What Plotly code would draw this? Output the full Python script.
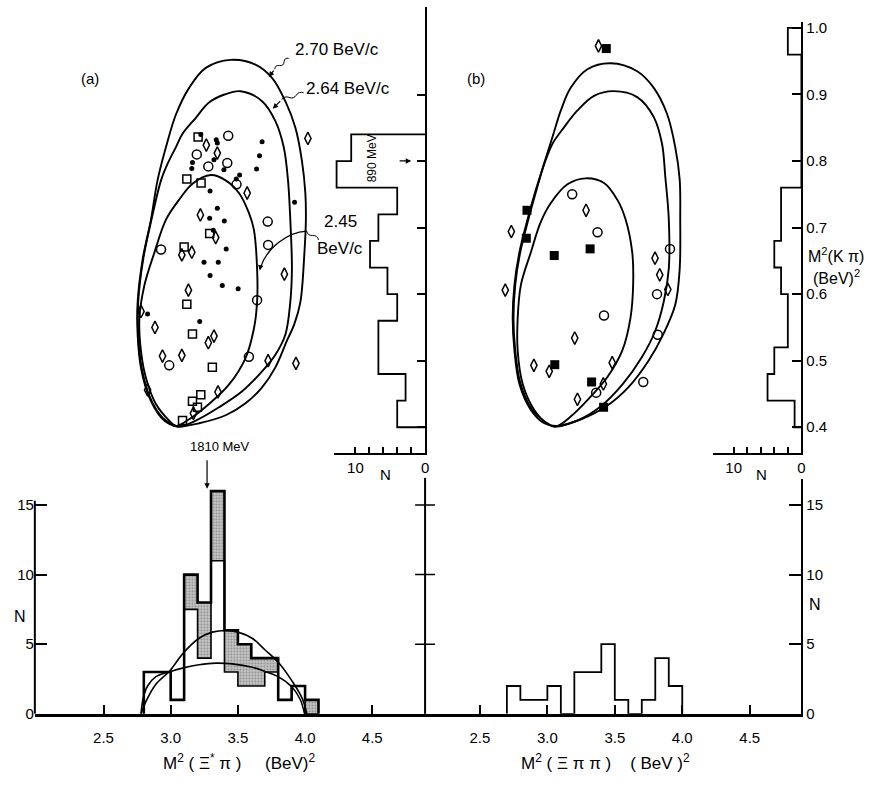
import plotly.graph_objects as go

W, H = 888, 786
FONT = "Liberation Sans, Arial, Helvetica, sans-serif"

# ---------------- data ----------------
# bottom-left: M^2(Xi* pi) histogram (open part + shaded part), bin edges
XS_EDGES = [2.8, 3.0, 3.1, 3.2, 3.3, 3.4, 3.5, 3.6, 3.7, 3.8, 3.9, 4.0, 4.1]
XS_OPEN = [3, 1, 7.5, 4, 11, 3, 2, 2, 3, 1, 2, 0]
XS_SHADED = [0, 0, 2.5, 4, 5, 3, 3, 2, 1, 0, 0, 1]

# phase-space curves drawn over the bottom-left histogram
PS_BIG_X = [2.779, 2.816, 2.890, 2.994, 3.095, 3.211, 3.310, 3.409, 3.500, 3.606, 3.705, 3.799, 3.902, 3.977, 4.014]
PS_BIG_Y = [0, 0.9, 2.13, 3.1, 4.38, 5.43, 5.87, 5.99, 5.87, 5.43, 4.57, 3.72, 2.37, 1.15, 0]
PS_SMALL_X = [2.779, 2.796, 2.828, 2.890, 2.994, 3.095, 3.211, 3.335, 3.458, 3.606, 3.705, 3.799, 3.902, 3.964, 3.996]
PS_SMALL_Y = [0, 1.15, 2.0, 2.67, 3.03, 3.30, 3.52, 3.64, 3.59, 3.35, 3.03, 2.67, 1.93, 1.03, 0]

# bottom-right: M^2(Xi pi pi) histogram
XPP_EDGES = [2.7, 2.8, 2.9, 3.0, 3.1, 3.2, 3.3, 3.4, 3.5, 3.6, 3.7, 3.8, 3.9, 4.0]
XPP_COUNTS = [2, 1, 1, 2, 0, 3, 3, 5, 1, 0, 1, 4, 2]

# side histograms of M^2(K pi)
KPI_A_EDGES = [0.40, 0.44, 0.48, 0.52, 0.56, 0.60, 0.64, 0.68, 0.72, 0.76, 0.80, 0.84]
KPI_A_COUNTS = [4.0, 2.8, 6.7, 6.7, 4.0, 5.4, 7.9, 6.7, 4.0, 12.7, 10.6]
KPI_B_EDGES = [0.40, 0.44, 0.48, 0.52, 0.56, 0.60, 0.64, 0.68, 0.72, 0.76, 0.96, 1.00]
KPI_B_COUNTS = [1, 5, 4, 2, 2, 3, 4, 3, 3, 0, 2]

# Dalitz boundaries, panel (a)
A_OUTER_X = [3.446, 3.631, 3.754, 3.853, 3.928, 3.976, 4.002, 4.006, 3.995, 3.965, 3.920, 3.865, 3.779, 3.680, 3.557, 3.409, 3.211, 3.050, 2.990, 2.928, 2.841, 2.779, 2.754, 2.754, 2.791, 2.853, 2.902, 2.965, 3.039, 3.137, 3.261]
A_OUTER_Y = [0.952, 0.945, 0.925, 0.890, 0.850, 0.801, 0.752, 0.712, 0.662, 0.588, 0.555, 0.530, 0.490, 0.460, 0.436, 0.418, 0.406, 0.401, 0.405, 0.415, 0.445, 0.489, 0.539, 0.588, 0.652, 0.712, 0.771, 0.821, 0.870, 0.910, 0.940]
A_MID_X = [3.520, 3.680, 3.779, 3.841, 3.873, 3.890, 3.902, 3.890, 3.853, 3.779, 3.680, 3.532, 3.359, 3.187, 3.063, 2.995, 2.932, 2.846, 2.784, 2.758, 2.758, 2.795, 2.857, 2.928, 2.977, 3.039, 3.088, 3.187, 3.285, 3.400]
A_MID_Y = [0.905, 0.890, 0.860, 0.821, 0.771, 0.712, 0.638, 0.588, 0.539, 0.509, 0.484, 0.454, 0.430, 0.410, 0.401, 0.406, 0.416, 0.445, 0.489, 0.539, 0.588, 0.652, 0.712, 0.771, 0.796, 0.821, 0.841, 0.865, 0.888, 0.900]
A_IN_X = [3.298, 3.409, 3.508, 3.582, 3.619, 3.643, 3.643, 3.619, 3.557, 3.433, 3.285, 3.137, 3.039, 2.989, 2.890, 2.816, 2.779, 2.767, 2.804, 2.878, 2.965, 3.063, 3.162]
A_IN_Y = [0.779, 0.771, 0.752, 0.722, 0.697, 0.638, 0.588, 0.548, 0.504, 0.464, 0.435, 0.412, 0.402, 0.410, 0.435, 0.474, 0.514, 0.563, 0.613, 0.662, 0.712, 0.742, 0.766]

# Dalitz boundaries, panel (b)
B_OUTER_X = [3.469, 3.666, 3.789, 3.887, 3.948, 3.981, 3.985, 3.981, 3.948, 3.860, 3.750, 3.600, 3.440, 3.250, 3.075, 2.977, 2.878, 2.793, 2.756, 2.743, 2.756, 2.793, 2.854, 2.915, 2.977, 3.038, 3.100, 3.173, 3.297]
B_OUTER_Y = [0.947, 0.935, 0.910, 0.871, 0.821, 0.772, 0.713, 0.638, 0.584, 0.540, 0.500, 0.460, 0.432, 0.412, 0.402, 0.406, 0.426, 0.465, 0.515, 0.564, 0.614, 0.663, 0.713, 0.757, 0.797, 0.836, 0.876, 0.910, 0.938]
B_MID_X = [3.494, 3.666, 3.789, 3.850, 3.874, 3.900, 3.900, 3.863, 3.800, 3.700, 3.560, 3.400, 3.220, 3.051, 2.985, 2.885, 2.800, 2.762, 2.749, 2.762, 2.799, 2.860, 2.920, 2.980, 3.038, 3.125, 3.223, 3.346]
B_MID_Y = [0.905, 0.896, 0.866, 0.826, 0.777, 0.713, 0.638, 0.589, 0.545, 0.505, 0.465, 0.432, 0.410, 0.401, 0.408, 0.427, 0.466, 0.515, 0.564, 0.614, 0.663, 0.713, 0.757, 0.797, 0.826, 0.851, 0.876, 0.898]
B_IN_X = [3.284, 3.420, 3.518, 3.579, 3.629, 3.636, 3.616, 3.555, 3.444, 3.321, 3.173, 3.063, 3.001, 2.903, 2.817, 2.780, 2.780, 2.804, 2.878, 2.950, 3.026, 3.149]
B_IN_Y = [0.774, 0.767, 0.742, 0.713, 0.663, 0.614, 0.564, 0.515, 0.475, 0.446, 0.416, 0.401, 0.405, 0.426, 0.465, 0.515, 0.564, 0.614, 0.663, 0.708, 0.737, 0.765]

# events, panel (a)
A_SQ_X = [3.204, 3.120, 3.226, 3.290, 3.100, 3.120, 3.162, 3.310, 3.224, 3.162, 3.199, 3.088]
A_SQ_Y = [0.836, 0.773, 0.767, 0.691, 0.671, 0.585, 0.540, 0.490, 0.449, 0.439, 0.430, 0.410]
A_DI_X = [3.265, 3.347, 3.569, 3.221, 3.335, 3.083, 3.157, 3.132, 2.779, 2.883, 3.322, 3.280, 2.939, 3.083, 3.846, 3.932, 4.021, 3.725, 2.828, 3.352, 3.169]
A_DI_Y = [0.824, 0.812, 0.752, 0.719, 0.685, 0.659, 0.663, 0.606, 0.574, 0.550, 0.537, 0.527, 0.507, 0.508, 0.630, 0.496, 0.834, 0.500, 0.456, 0.453, 0.421]
A_OC_X = [3.428, 3.194, 3.421, 3.280, 3.490, 3.722, 3.725, 2.928, 3.643, 3.582, 2.989]
A_OC_Y = [0.838, 0.810, 0.797, 0.792, 0.765, 0.709, 0.674, 0.667, 0.591, 0.506, 0.493]
A_DOT_X = [3.224, 3.339, 3.347, 3.680, 3.162, 3.157, 3.322, 3.396, 3.661, 3.639, 3.513, 3.488, 3.293, 3.922, 3.347, 3.290, 3.399, 3.317, 3.413, 3.248, 3.354, 3.293, 3.384, 3.502, 3.216, 2.828]
A_DOT_Y = [0.840, 0.832, 0.827, 0.829, 0.798, 0.789, 0.802, 0.787, 0.808, 0.788, 0.779, 0.773, 0.755, 0.738, 0.729, 0.714, 0.710, 0.696, 0.668, 0.648, 0.648, 0.628, 0.613, 0.608, 0.559, 0.570]

# events, panel (b)
B_SQ_X = [3.437, 2.849, 2.844, 3.051, 3.317, 3.055, 3.328, 3.417]
B_SQ_Y = [0.969, 0.726, 0.684, 0.658, 0.668, 0.494, 0.468, 0.430]
B_DI_X = [3.379, 3.287, 2.733, 3.798, 3.833, 2.688, 3.893, 3.203, 2.900, 3.014, 3.481, 3.415, 3.223]
B_DI_Y = [0.973, 0.726, 0.694, 0.654, 0.629, 0.606, 0.607, 0.534, 0.493, 0.484, 0.497, 0.465, 0.442]
B_OC_X = [3.184, 3.372, 3.909, 3.813, 3.420, 3.818, 3.362, 3.711]
B_OC_Y = [0.750, 0.693, 0.668, 0.600, 0.568, 0.539, 0.452, 0.468]

X_TICKS = [2.5, 3.0, 3.5, 4.0, 4.5]
N_TICKS = [0, 5, 10, 15]
SIDE_N_TICKS = [0, 2, 4, 6, 8, 10]
KPI_TICKS = [0.4, 0.5, 0.6, 0.7, 0.8, 0.9, 1.0]


# ---------------- helpers ----------------
def fx(p):
    return p / W


def fy(p):
    return 1 - p / H


def closed(xs, ys):
    return xs + xs[:1], ys + ys[:1]


def vstep(edges, counts):
    xs, ys = [0], [edges[0]]
    for i, c in enumerate(counts):
        xs += [c, c]
        ys += [edges[i], edges[i + 1]]
    xs.append(0)
    ys.append(edges[-1])
    return xs, ys


def hstep(edges, counts):
    xs, ys = [edges[0]], [0]
    for i, c in enumerate(counts):
        xs += [edges[i], edges[i + 1]]
        ys += [c, c]
    xs.append(edges[-1])
    ys.append(0)
    return xs, ys


def squiggle(p0, p1, n=3, amp=2.2):
    (x0, y0), (x1, y1) = p0, p1
    dx, dy = x1 - x0, y1 - y0
    L = (dx * dx + dy * dy) ** 0.5
    nx, ny = -dy / L, dx / L
    s = "M %.5f %.5f" % (fx(x0), fy(y0))
    for k in range(n):
        t0, t1 = k / n, (k + 1) / n
        tm = (t0 + t1) / 2
        sgn = 1 if k % 2 == 0 else -1
        cx = x0 + dx * tm + nx * amp * 2 * sgn
        cy = y0 + dy * tm + ny * amp * 2 * sgn
        ex, ey = x0 + dx * t1, y0 + dy * t1
        s += " Q %.5f %.5f %.5f %.5f" % (fx(cx), fy(cy), fx(ex), fy(ey))
    return s


fig = go.Figure()
LINE = dict(color="black", width=1.8)

# Dalitz boundaries
for cx, cy in [(A_OUTER_X, A_OUTER_Y), (A_MID_X, A_MID_Y), (A_IN_X, A_IN_Y)]:
    x, y = closed(cx, cy)
    fig.add_trace(go.Scatter(x=x, y=y, mode="lines", xaxis="x", yaxis="y",
                             line=dict(color="black", width=1.9, shape="spline", smoothing=1.0)))
for cx, cy in [(B_OUTER_X, B_OUTER_Y), (B_MID_X, B_MID_Y), (B_IN_X, B_IN_Y)]:
    x, y = closed(cx, cy)
    fig.add_trace(go.Scatter(x=x, y=y, mode="lines", xaxis="x2", yaxis="y2",
                             line=dict(color="black", width=1.9, shape="spline", smoothing=1.0)))


# events
def pts(x, y, symbol, size, ax, ay, lw=1.5):
    m = dict(symbol=symbol, size=size, color="black", line=dict(color="black", width=lw))
    fig.add_trace(go.Scatter(x=x, y=y, mode="markers", marker=m, xaxis=ax, yaxis=ay, cliponaxis=False))


pts(A_SQ_X, A_SQ_Y, "square-open", 8, "x", "y")
pts(A_DI_X, A_DI_Y, "diamond-tall-open", 9, "x", "y")
pts(A_OC_X, A_OC_Y, "circle-open", 9, "x", "y")
pts(A_DOT_X, A_DOT_Y, "circle", 5, "x", "y", lw=0)
pts(B_SQ_X, B_SQ_Y, "square", 9, "x2", "y2", lw=0)
pts(B_DI_X, B_DI_Y, "diamond-tall-open", 9, "x2", "y2")
pts(B_OC_X, B_OC_Y, "circle-open", 9, "x2", "y2")

# side histograms
xa, ya = vstep(KPI_A_EDGES, KPI_A_COUNTS)
fig.add_trace(go.Scatter(x=xa, y=ya, mode="lines", line=LINE, xaxis="x3", yaxis="y"))
xb, yb = vstep(KPI_B_EDGES, KPI_B_COUNTS)
fig.add_trace(go.Scatter(x=xb, y=yb, mode="lines", line=LINE, xaxis="x4", yaxis="y2"))

# bottom-left histogram: shaded part, open-part outline, total envelope
centers = [(XS_EDGES[i] + XS_EDGES[i + 1]) / 2 for i in range(len(XS_OPEN))]
widths = [XS_EDGES[i + 1] - XS_EDGES[i] for i in range(len(XS_OPEN))]
fig.add_trace(go.Bar(x=centers, y=XS_SHADED, base=XS_OPEN, width=widths, xaxis="x5", yaxis="y5",
                     marker=dict(color="#bdbdbd",
                                 pattern=dict(shape=".", fgcolor="#4f4f4f", bgcolor="#c6c6c6",
                                              size=3, solidity=0.35),
                                 line=dict(width=0))))
ox, oy = hstep(XS_EDGES, XS_OPEN)
fig.add_trace(go.Scatter(x=ox, y=oy, mode="lines", line=dict(color="black", width=1.6),
                         xaxis="x5", yaxis="y5"))
totals = [o + s for o, s in zip(XS_OPEN, XS_SHADED)]
ex, ey = hstep(XS_EDGES, totals)
fig.add_trace(go.Scatter(x=ex, y=ey, mode="lines", line=dict(color="black", width=2.6),
                         xaxis="x5", yaxis="y5"))
fig.add_trace(go.Scatter(x=PS_BIG_X, y=PS_BIG_Y, mode="lines", xaxis="x5", yaxis="y5",
                         line=dict(color="black", width=1.6, shape="spline")))
fig.add_trace(go.Scatter(x=PS_SMALL_X, y=PS_SMALL_Y, mode="lines", xaxis="x5", yaxis="y5",
                         line=dict(color="black", width=1.6, shape="spline")))

# bottom-right histogram
rx, ry = hstep(XPP_EDGES, XPP_COUNTS)
fig.add_trace(go.Scatter(x=rx, y=ry, mode="lines", line=LINE, xaxis="x6", yaxis="y6"))

# ---------------- axes ----------------
TF = dict(family=FONT, size=15, color="black")
hidden = dict(visible=False, showgrid=False, zeroline=False)
common = dict(showgrid=False, zeroline=False, linecolor="black", tickcolor="black", tickfont=TF)

Y_TOP_RANGE = [0.361, 1.0316]
Y2_TOP_RANGE = [0.361, 1.0093]
N_RANGE = [0, 16.88]

layout_axes = dict(
    xaxis=dict(domain=[fx(35), fx(427)], range=[1.989, 4.893], anchor="y", **hidden),
    xaxis2=dict(domain=[fx(427), fx(805)], range=[2.0936, 4.883], anchor="y2", **hidden),
    yaxis=dict(domain=[fy(457), fy(5)], range=Y_TOP_RANGE, anchor="x3", side="right",
               showline=True, linewidth=2, ticks="inside", ticklen=8, tickwidth=1.5,
               tickvals=KPI_TICKS[:-1], showticklabels=False, **common),
    yaxis2=dict(domain=[fy(457), fy(20)], range=Y2_TOP_RANGE, anchor="x4", side="right",
                showline=True, linewidth=2, ticks="inside", ticklen=9, tickwidth=1.5,
                tickvals=KPI_TICKS, ticktext=["%.1f" % v for v in KPI_TICKS], **common),
    xaxis3=dict(domain=[fx(336), fx(427)], range=[13.0, 0], anchor="y",
                showline=True, linewidth=2, ticks="inside", ticklen=6, tickwidth=1.5,
                tickvals=SIDE_N_TICKS,
                ticktext=[str(v) if v in (0, 10) else "" for v in SIDE_N_TICKS], **common),
    xaxis4=dict(domain=[fx(716), fx(805)], range=[13.09, 0], anchor="y2",
                showline=True, linewidth=2, ticks="inside", ticklen=6, tickwidth=1.5,
                tickvals=SIDE_N_TICKS,
                ticktext=[str(v) if v in (0, 10) else "" for v in SIDE_N_TICKS], **common),
    xaxis5=dict(domain=[fx(35), fx(427)], range=[1.989, 4.893], anchor="y5",
                showline=True, linewidth=2.6, ticks="inside", ticklen=9, tickwidth=1.5,
                ticklabelstandoff=8,
                tickvals=X_TICKS, ticktext=["%.1f" % v for v in X_TICKS], **common),
    yaxis5=dict(domain=[fy(721), fy(483)], range=N_RANGE, anchor="x5", side="left",
                showline=False, ticks="inside", ticklen=12, tickwidth=1.5,
                tickvals=N_TICKS, ticktext=[str(v) for v in N_TICKS], **common),
    xaxis6=dict(domain=[fx(427), fx(805)], range=[2.0936, 4.883], anchor="y6",
                showline=True, linewidth=2.6, ticks="inside", ticklen=9, tickwidth=1.5,
                ticklabelstandoff=8,
                tickvals=X_TICKS, ticktext=["%.1f" % v for v in X_TICKS], **common),
    yaxis6=dict(domain=[fy(721), fy(483)], range=N_RANGE, anchor="x6", side="right",
                showline=True, linewidth=2, ticks="inside", ticklen=12, tickwidth=1.5,
                tickvals=N_TICKS, ticktext=[str(v) for v in N_TICKS], **common),
)

# ---------------- shapes ----------------
shapes = []
# left axis of bottom-left histogram
shapes.append(dict(type="line", xref="paper", yref="y5", x0=fx(35), x1=fx(35), y0=0, y1=15.3,
                   line=dict(color="black", width=2)))
# shared divider (lower part) with crossing ticks
shapes.append(dict(type="line", xref="paper", yref="paper", x0=fx(427), x1=fx(427),
                   y0=fy(721), y1=fy(482), line=dict(color="black", width=2)))
for v in N_TICKS[1:]:
    shapes.append(dict(type="line", xref="paper", yref="y5", x0=fx(417), x1=fx(437), y0=v, y1=v,
                       line=dict(color="black", width=1.5)))
# wavy leaders of momentum labels
SQ = dict(type="path", xref="paper", yref="paper", line=dict(color="black", width=1))
shapes.append(dict(path=squiggle((290, 57), (276, 68), n=3, amp=1.6), **SQ))
shapes.append(dict(path=squiggle((305, 92), (283, 99), n=3, amp=1.6), **SQ))
shapes.append(dict(path=squiggle((320, 241), (308, 232), n=2, amp=1.6), **SQ))
shapes.append(dict(type="path", xref="paper", yref="paper", line=dict(color="black", width=1.2),
                   path="M %.5f %.5f C %.5f %.5f %.5f %.5f %.5f %.5f" % (
                       fx(308), fy(232), fx(288), fy(233), fx(268), fy(250), fx(262), fy(268))))


# ---------------- annotations ----------------
def txt(x, y, s, size=15, xanchor="center", **kw):
    return dict(x=fx(x), y=fy(y), xref="paper", yref="paper", text=s, showarrow=False,
                xanchor=xanchor, yanchor="middle",
                font=dict(family=FONT, size=size, color="black"), **kw)


def arrow(x, y, ax, ay):
    return dict(x=fx(x), y=fy(y), xref="paper", yref="paper", text="", showarrow=True,
                ax=ax, ay=ay, arrowhead=2, arrowsize=0.9, arrowwidth=1.2, arrowcolor="black")


ann = [
    txt(90, 77, "(a)", 15),
    txt(478, 77, "(b)", 15),
    txt(339, 48, "2.70 BeV/c", 17),
    txt(350, 88, "2.64 BeV/c", 17),
    txt(342, 222, "2.45", 17),
    txt(342, 250, "BeV/c", 17),
    txt(374, 158, "890 MeV", 12, textangle=-90),
    txt(221, 450, "1810 MeV", 13),
    txt(387, 479, "N", 15),
    txt(765, 479, "N", 15),
    txt(20, 622, "N", 16),
    txt(819, 610, "N", 16),
    txt(810, 256, "M<sup>2</sup>(K π)", 16, xanchor="left"),
    txt(815, 279, "(BeV)<sup>2</sup>", 16, xanchor="left"),
    txt(241, 770, "M<sup>2</sup> ( Ξ<sup>*</sup> π )     (BeV)<sup>2</sup>", 17),
    txt(608, 770, "M<sup>2</sup> ( Ξ π π )    ( BeV )<sup>2</sup>", 17),
    arrow(208, 493, 0, -30),
    arrow(413, 161, -13, 0),
    arrow(270, 76, 6, -8),
    arrow(274, 108, 9, -9),
    arrow(261, 272, 1, -6),
]

fig.update_layout(
    width=W, height=H, margin=dict(l=0, r=0, t=0, b=0),
    paper_bgcolor="white", plot_bgcolor="rgba(0,0,0,0)",
    showlegend=False, hovermode=False, barmode="overlay", bargap=0,
    shapes=shapes, annotations=ann, font=dict(family=FONT, color="black"),
    **layout_axes,
)

fig.write_html("out.html")
